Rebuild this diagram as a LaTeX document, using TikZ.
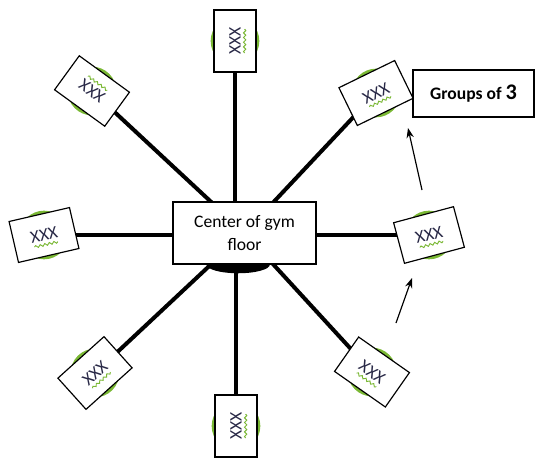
\documentclass[tikz,border=0pt]{standalone}
\usepackage{fontspec}
\setmainfont{Carlito}
\usetikzlibrary{backgrounds,decorations.pathmorphing,arrows.meta}

\definecolor{grassgreen}{RGB}{122,184,52}
\definecolor{inkblue}{RGB}{40,40,70}

\begin{document}
\begin{tikzpicture}[x=0.3mm,y=-0.3mm,
    pbox/.style={draw, line width=1pt, fill=white, minimum width=18.6mm, minimum height=12.6mm, inner sep=0pt, transform shape, font=\fontsize{15}{17}\selectfont, text=inkblue},
    spoke/.style={line width=1.2mm},
    squig/.style={grassgreen, line width=0.8pt, decorate, decoration={snake, amplitude=0.35mm, segment length=1.4mm}},
    pointer/.style={line width=1pt, -{Stealth[length=3mm, width=2.2mm]}}]

    \useasboundingbox (0,0) rectangle (535,457);

    % Center of the floor
    \node[draw, line width=1pt, fill=white, minimum width=42.9mm, minimum height=18.6mm, align=center, font=\fontsize{15}{19}\selectfont] (hub) at (244.5,233) {Center of gym\\floor};

    % Groups of three round the center
    \foreach \n/\x/\y/\a in {t/235/41/90, tr/376/93/26, r/429/235/15, br/372/372/-35, b/236/426/90, bl/95/373/42, l/44/235/13, tl/92/91/144} {
        \begin{scope}[shift={(\x,\y)}, rotate=\a]
            \node[pbox] (p\n) at (0,0) {XXX};
            \draw[squig] (-3.6mm,-2.9mm) -- (3.6mm,-2.9mm);
        \end{scope}
    }

    % Spokes and marks behind the boxes
    \begin{scope}[on background layer]
        \draw[spoke] (pt.center) -- (pt.center |- hub.center);
        \draw[spoke] (pb.center) -- (pb.center |- hub.center);
        \draw[spoke] (pl.center) -- (pl.center -| hub.center);
        \draw[spoke] (pr.center) -- (pr.center -| hub.center);
        \foreach \n in {tr,br,bl,tl}
            \draw[spoke] (p\n.center) -- (hub.center);
        \foreach \n in {t,tr,r,br,b,bl,l,tl}
            \fill[grassgreen] (p\n.center) circle (7.3mm);
        \fill ([xshift=-1.9mm]hub.south) ellipse [x radius=9.5mm, y radius=2.6mm];
    \end{scope}

    % Label and rotation arrows
    \node[draw, line width=1pt, minimum width=36.3mm, minimum height=14.1mm, font=\bfseries\fontsize{15}{18}\selectfont] (groups) at (473.5,93.5) {Groups of {\fontsize{19}{18}\selectfont 3}};
    \coordinate (up1) at (422,190);
    \coordinate (up1tip) at (408,128);
    \coordinate (up2) at (396,323);
    \coordinate (up2tip) at (412,278);
    \draw[pointer] (up1) -- (up1tip);
    \draw[pointer] (up2) -- (up2tip);

\end{tikzpicture}
\end{document}
